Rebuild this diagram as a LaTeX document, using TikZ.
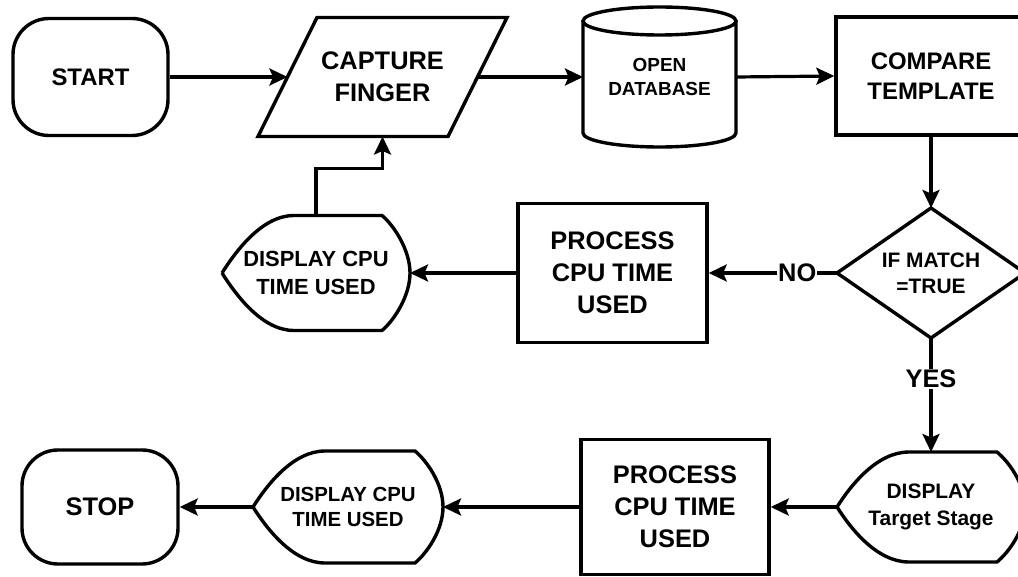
\documentclass[tikz,border=0pt]{standalone}
\usepackage{fontspec}
\setmainfont{Liberation Sans}
\usetikzlibrary{arrows.meta,calc}
\newcommand\dispshape[1]{%
  \draw[shp] (#1.west) .. controls +(14,-22) and +(-32,0) .. ($(#1.north west)+(72,0)$)
    -- ($(#1.north east)+(-28,0)$) .. controls +(12,10) and +(0,-23) .. (#1.east)
    .. controls +(0,23) and +(12,-10) .. ($(#1.south east)+(-28,0)$)
    -- ($(#1.south west)+(72,0)$) .. controls +(-32,0) and +(14,22) .. (#1.west);}
\tikzset{
  shp/.style={line width=3.4bp, line join=miter},
  box/.style={draw, line width=3.4bp, inner sep=0pt, align=center, text=black},
  ghost/.style={inner sep=0pt, outer sep=0pt, align=center, text=black},
  arr/.style={line width=3.2bp, -{Stealth[length=18bp,width=17bp,inset=3.5bp]}},
  lbl/.style={fill=white, inner sep=1bp, text=black},
  fA/.style={font=\fontsize{25.5}{32}\selectfont\bfseries},
  fB/.style={font=\fontsize{24}{30}\selectfont\bfseries},
  fC/.style={font=\fontsize{19}{24}\selectfont\bfseries},
  fD/.style={font=\fontsize{22}{28}\selectfont\bfseries},
  fE/.style={font=\fontsize{21}{26.5}\selectfont\bfseries},
  fF/.style={font=\fontsize{20.5}{26}\selectfont\bfseries},
}
\begin{document}
\begin{tikzpicture}[x=1bp,y=-1bp]
\fill[white] (0,0) rectangle (1018,577);
\useasboundingbox (0,0) rectangle (1018,577);

% row 1
\node[box, fB, rounded corners=36bp, minimum width=155bp, minimum height=117bp] (start) at (90.5,77) {START};
\node[ghost, fA, minimum width=190bp, minimum height=119bp] (capture) at (382.5,77) {CAPTURE\\FINGER};
\draw[shp] ($(capture.north west)+(29.5,0)$) -- ($(capture.north east)+(29.5,0)$)
  -- ($(capture.south east)+(-29.5,0)$) -- ($(capture.south west)+(-29.5,0)$) -- cycle;
\node[ghost, fC, minimum width=153bp, minimum height=140bp] (db) at (659.5,77) {OPEN\\DATABASE};
\draw[shp] ($(db.north west)+(0,14)$) -- ($(db.south west)+(0,-14)$)
  arc[start angle=180, end angle=360, x radius=76.5bp, y radius=14bp]
  -- ($(db.north east)+(0,14)$);
\draw[shp] ($(db.north)+(0,14)$) ellipse[x radius=76.5bp, y radius=14bp];
\node[box, fB, minimum width=190bp, minimum height=118bp] (compare) at (931,76) {COMPARE\\TEMPLATE};

% row 2
\node[ghost, fE, minimum width=188bp, minimum height=130bp] (dec) at (931,273) {IF MATCH\\=TRUE};
\draw[shp] (dec.north) -- (dec.east) -- (dec.south) -- (dec.west) -- cycle;
\node[box, fA, minimum width=189bp, minimum height=139bp] (proc1) at (612.5,273) {PROCESS\\CPU TIME\\USED};
\node[ghost, fD, minimum width=188bp, minimum height=115bp] (disp1) at (316,273) {DISPLAY CPU\\TIME USED};
\dispshape{disp1}

% row 3
\node[ghost, fE, minimum width=188bp, minimum height=110bp] (disp2) at (931,507) {DISPLAY\\Target Stage};
\dispshape{disp2}
\node[box, fA, minimum width=188bp, minimum height=135bp] (proc2) at (675,507) {PROCESS\\CPU TIME\\USED};
\node[ghost, fF, minimum width=190bp, minimum height=112bp] (disp3) at (348,507) {DISPLAY CPU\\TIME USED};
\dispshape{disp3}
\node[box, fA, rounded corners=36bp, minimum width=156bp, minimum height=114bp] (stop) at (100,507) {STOP};

% connectors
\draw[arr] (start.east) -- (capture.west);
\draw[arr] (capture.east) -- (db.west);
\draw[arr] (db.east) -- (compare.west);
\draw[arr] (compare.south) -- (dec.north);
\draw[arr] (dec.west) -- node[lbl, fA, pos=0.31] (nolbl) {NO} (proc1.east);
\draw[arr] (proc1.west) -- (disp1.east);
\draw[arr] (disp1.north) |- ($(capture.south)+(0,32)$) -- (capture.south);
\draw[arr] (dec.south) -- node[lbl, fA, pos=0.36] (yeslbl) {YES} (disp2.north);
\draw[arr] (disp2.west) -- (proc2.east);
\draw[arr] (proc2.west) -- (disp3.east);
\draw[arr] (disp3.west) -- (stop.east);
\end{tikzpicture}
\end{document}
